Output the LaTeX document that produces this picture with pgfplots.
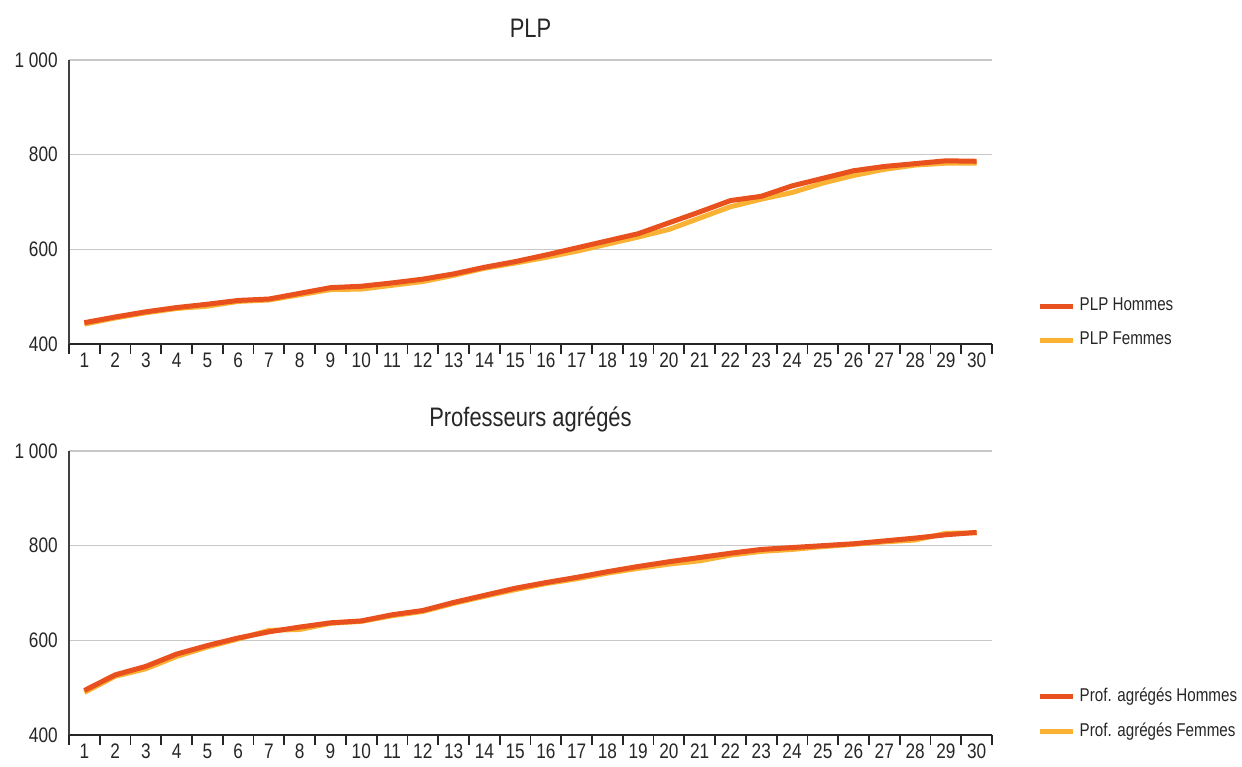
\documentclass[border=0pt]{standalone}
\usepackage{fontspec}
\setmainfont{Liberation Sans}[FakeStretch=0.82]
\usepackage{pgfplots}
\pgfplotsset{compat=1.18}

\definecolor{hommes}{HTML}{E8501E}
\definecolor{femmes}{HTML}{F9B233}
\definecolor{gridgray}{HTML}{C8C8C8}

\pgfplotsset{
  salaire/.style={
    scale only axis,
    width=369.2pt, height=113.6pt,
    xmin=0.5, xmax=30.5,
    ymin=400, ymax=1000,
    ytick={400,600,800,1000},
    xtick={1,...,30},
    minor xtick={0.5,1.5,...,30.5},
    major tick length=0pt,
    minor tick length=4pt,
    tick align=outside,
    axis x line*=bottom,
    axis y line*=left,
    x axis line style={black!85, line width=0.8pt, -},
    y axis line style={black!75, line width=0.8pt, -},
    minor tick style={black!85, line width=0.7pt},
    ymajorgrids=true,
    grid style={gridgray, line width=0.6pt},
    tick label style={font=\fontsize{8.4}{10}\selectfont, text=black!85},
    yticklabel style={xshift=-1pt},
    /pgf/number format/assume math mode=true,
    /pgf/number format/1000 sep={\ },
    title style={font=\fontsize{10.7}{12}\selectfont, text=black!85,
      at={(0.5,1)}, anchor=center, yshift=6.8pt},
    legend style={draw=none, fill=none, inner sep=0pt, at={(1.049,0.073)}, anchor=west,
      font=\fontsize{7.4}{9}\selectfont, text=black!85, row sep=3.8pt,
      nodes={inner sep=1.6pt}},
    legend cell align=left,
    legend image code/.code={\draw[#1, line width=2pt] (0pt,0pt) -- (13.2pt,0pt);},
    every axis plot/.append style={line width=2pt, line join=round},
  }
}

\begin{document}
\begin{tikzpicture}
\useasboundingbox (0,0) rectangle (496.8pt,306.8pt);

\begin{axis}[salaire, at={(27.6pt,169.2pt)}, anchor=south west, title={PLP},
  reverse legend]
% Femmes first so Hommes sits on top
\addplot[femmes] coordinates {
 (1,442) (2,455) (3,466) (4,475) (5,480) (6,490) (7,493) (8,504) (9,515) (10,516)
 (11,524) (12,532) (13,545) (14,560) (15,571) (16,583) (17,596) (18,611) (19,626) (20,642)
 (21,666) (22,690) (23,706) (24,720) (25,740) (26,756) (27,769) (28,778) (29,782) (30,782)
};
\addlegendentry{PLP Femmes}
\addplot[hommes] coordinates {
 (1,445) (2,457) (3,468) (4,477) (5,484) (6,492) (7,495) (8,507) (9,519) (10,522)
 (11,529) (12,537) (13,548) (14,562) (15,574) (16,588) (17,603) (18,618) (19,633) (20,656)
 (21,679) (22,703) (23,712) (24,734) (25,750) (26,766) (27,775) (28,781) (29,787) (30,786)
};
\addlegendentry{PLP Hommes}
\end{axis}

\begin{axis}[salaire, at={(27.6pt,12.8pt)}, anchor=south west, title={Professeurs agrégés},
  reverse legend]
\addplot[femmes] coordinates {
 (1,490) (2,524) (3,540) (4,566) (5,586) (6,603) (7,621) (8,623) (9,636) (10,640)
 (11,652) (12,661) (13,678) (14,693) (15,707) (16,720) (17,730) (18,742) (19,752) (20,761)
 (21,768) (22,780) (23,788) (24,792) (25,798) (26,803) (27,808) (28,812) (29,826) (30,827)
};
\addlegendentry{Prof. agrégés Femmes}
\addplot[hommes] coordinates {
 (1,494) (2,527) (3,545) (4,571) (5,589) (6,605) (7,618) (8,628) (9,637) (10,641)
 (11,654) (12,663) (13,680) (14,695) (15,710) (16,722) (17,733) (18,745) (19,756) (20,766)
 (21,775) (22,784) (23,792) (24,796) (25,800) (26,804) (27,810) (28,816) (29,823) (30,828)
};
\addlegendentry{Prof. agrégés Hommes}
\end{axis}
\end{tikzpicture}
\end{document}
